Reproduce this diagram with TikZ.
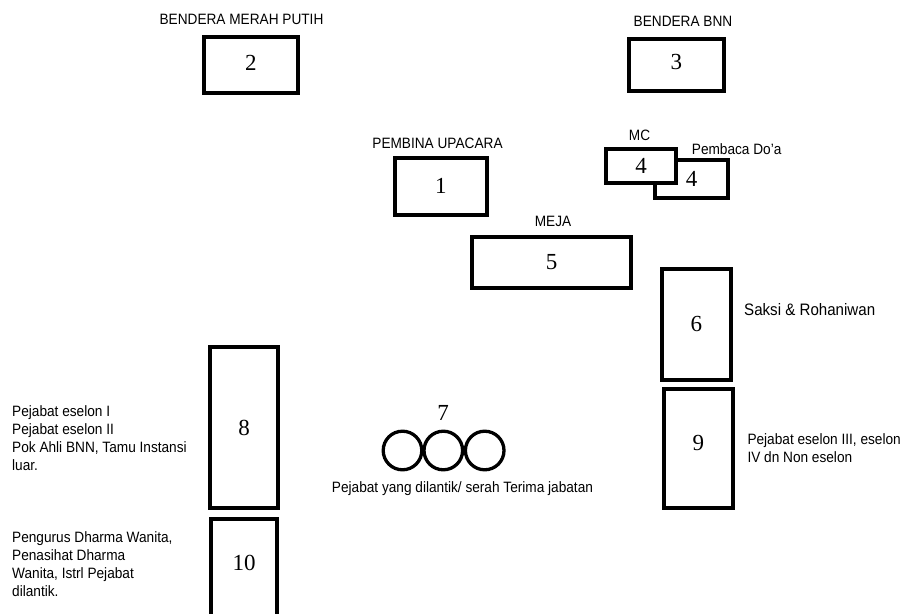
\documentclass[tikz,border=0pt]{standalone}
\usepackage{fontspec}
\setmainfont{Liberation Sans}[FakeStretch=0.91]
\newfontfamily\numfont{Liberation Serif}
\begin{document}
\begin{tikzpicture}[x=1pt,y=-1pt,
  seat/.style={draw=black, line width=4pt, fill=white, inner sep=0pt,
    font=\numfont\fontsize{23}{23}\selectfont},
  lbl/.style={inner sep=0pt, font=\fontsize{15}{18}\selectfont},
  chair/.style={circle, draw=black, line width=3.3pt, minimum size=38.6pt, inner sep=0pt}]
\useasboundingbox (0,0) rectangle (904,613);

% flags
\node[seat, minimum width=94.3pt, minimum height=56pt] (b2) at (250.8,65) {\raisebox{5pt}{2}};
\node[lbl, anchor=base] (l2) at (241.5,24) {BENDERA MERAH PUTIH};
\node[seat, minimum width=95.3pt, minimum height=52.3pt] (b3) at (676.3,64.8) {\raisebox{6pt}{3}};
\node[lbl, anchor=base] (l3) at (683,27) {BENDERA BNN};

% pembina
\node[seat, minimum width=92.3pt, minimum height=56.7pt] (b1) at (440.8,186.3) {1};
\node[lbl, anchor=base] (l1) at (437.5,148) {PEMBINA UPACARA};

% MC and pembaca do'a
\node[seat, minimum width=73pt, minimum height=38pt] (b4b) at (691.5,179) {\raisebox{-5pt}{4}};
\node[seat, minimum width=70pt, minimum height=34.3pt] (b4a) at (641,165.8) {\raisebox{-8pt}{4}};
\node[lbl, anchor=base] (l4a) at (639.5,140.7) {MC};
\node[lbl, anchor=base west] (l4b) at (691.7,154) {Pembaca Do'a};

% meja
\node[seat, minimum width=159.3pt, minimum height=51pt] (b5) at (551.7,262.5) {5};
\node[lbl, anchor=base] (l5) at (553,226) {MEJA};

% saksi
\node[seat, minimum width=68.7pt, minimum height=111pt] (b6) at (696.3,324.2) {6};
\node[lbl, anchor=base west, font=\fontsize{16.6}{18}\selectfont] (l6) at (744,315) {Saksi \& Rohaniwan};

% eselon III
\node[seat, minimum width=69.3pt, minimum height=119.3pt] (b9) at (698.3,448.3) {\raisebox{11pt}{9}};
\node[lbl, anchor=base west, align=left] (l9) at (747.3,462.7) {Pejabat eselon III, eselon\\IV dn Non eselon};

% left side
\node[seat, minimum width=68pt, minimum height=161pt] (b8) at (244,427.5) {8};
\node[lbl, anchor=base west, align=left, font=\fontsize{15}{17.8}\selectfont] (l8) at (12,470)
  {Pejabat eselon I\\Pejabat eselon II\\Pok Ahli BNN, Tamu Instansi\\luar.};
\node[seat, minimum width=66pt, minimum height=121.3pt] (b10) at (244,579.3) {\raisebox{33pt}{10}};
\node[lbl, anchor=base west, align=left, font=\fontsize{15}{18.1}\selectfont] (l10) at (12,596.7)
  {Pengurus Dharma Wanita,\\Penasihat Dharma\\Wanita, Istrl Pejabat\\dilantik.};

% pejabat dilantik
\node[chair] (c1) at (402.5,450.5) {};
\node[chair] (c2) at (443.3,450.5) {};
\node[chair] (c3) at (484.7,450.5) {};
\node[inner sep=0pt, font=\numfont\fontsize{23}{23}\selectfont] (n7) at (443,413.3) {7};
\node[lbl, anchor=base] (l7) at (462.5,492.5) {Pejabat yang dilantik/ serah Terima jabatan};
\end{tikzpicture}
\end{document}
